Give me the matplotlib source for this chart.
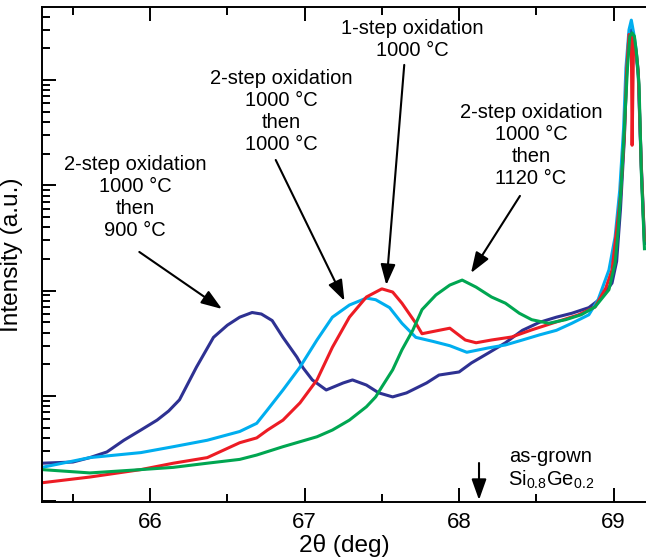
import matplotlib
matplotlib.use("Agg")
import matplotlib.pyplot as plt
from matplotlib.ticker import FixedLocator, LogLocator, NullFormatter

plt.rcParams["font.family"] = ["Liberation Sans", "DejaVu Sans"]
plt.rcParams["mathtext.fontset"] = "custom"
plt.rcParams["mathtext.rm"] = "Liberation Sans"
plt.rcParams["mathtext.it"] = "Liberation Sans"

# 2theta (deg) and intensity (a.u., log axis)
navy_x = [65.30, 65.50, 65.61, 65.72, 65.83, 65.94, 66.045, 66.12, 66.19, 66.30,
          66.41, 66.50, 66.58, 66.66, 66.72, 66.79, 66.86, 66.95, 66.99, 67.05,
          67.14, 67.25, 67.31, 67.40, 67.48, 67.57, 67.66, 67.79, 67.87, 68.00,
          68.08, 68.19, 68.30, 68.41, 68.52, 68.63, 68.73, 68.84, 68.92, 68.99,
          69.02, 69.045, 69.07, 69.085, 69.10, 69.115, 69.13, 69.145, 69.16, 69.18,
          69.20]
navy_y = [2.3, 2.36, 2.6, 2.94, 3.8, 4.75, 5.9, 7.2, 9.2, 18.8,
          36, 47, 56, 62, 60, 52, 36, 23.4, 18.5, 14.2,
          11.4, 13.3, 14.2, 12.7, 10.7, 9.8, 10.7, 13.3, 15.8, 16.9,
          20.6, 25.6, 32, 42, 50, 56, 61, 69, 85, 118,
          190, 600, 2800, 12000, 27000, 30000, 26000, 18000, 11000, 1400,
          280]

cyan_x = [65.30, 65.61, 65.94, 66.15, 66.37, 66.58, 66.69, 66.76, 66.86, 66.97,
          67.08, 67.18, 67.29, 67.40, 67.46, 67.55, 67.63, 67.72, 67.83, 67.94,
          68.05, 68.19, 68.30, 68.41, 68.52, 68.63, 68.73, 68.84, 68.90, 68.97,
          69.01, 69.04, 69.065, 69.08, 69.10, 69.115, 69.13, 69.145, 69.16, 69.18, 69.20]
cyan_y = [2.1, 2.6, 2.9, 3.3, 3.8, 4.6, 5.5, 7.4, 11.4, 18.8,
          34, 56, 73, 85, 82, 69, 49, 36, 33, 30,
          26, 28.6, 30.5, 34, 38, 42, 49, 59, 82, 157,
          324, 900, 3500, 13000, 30000, 37000, 28000, 20000, 12000, 1500, 300]

red_x = [65.30, 65.61, 65.94, 66.15, 66.37, 66.58, 66.69, 66.76, 66.86, 66.97,
         67.08, 67.18, 67.29, 67.40, 67.50, 67.57, 67.63, 67.72, 67.76, 67.87,
         67.94, 68.04, 68.11, 68.21, 68.34, 68.47, 68.63, 68.77, 68.88, 68.95,
         68.99, 69.02, 69.045, 69.07, 69.085, 69.10, 69.115, 69.12, 69.13, 69.145,
         69.16, 69.18, 69.20]
red_y = [1.5, 1.7, 2.0, 2.3, 2.6, 3.6, 4.0, 4.75, 5.9, 8.6,
         14.2, 29, 56, 87, 104, 97, 76, 49, 39, 42,
         44, 34, 32, 34, 36.3, 42.4, 50.5, 58.7, 70, 106,
         157, 377, 800, 3000, 12500, 27000, 26000, 2400, 25000, 19000,
         12000, 1500, 300]

green_x = [65.30, 65.61, 65.94, 66.15, 66.37, 66.58, 66.69, 66.86, 67.08, 67.18,
           67.29, 67.40, 67.46, 67.50, 67.57, 67.63, 67.70, 67.76, 67.85, 67.94,
           68.02, 68.11, 68.21, 68.30, 68.39, 68.47, 68.58, 68.69, 68.79, 68.88,
           68.97, 69.01, 69.03, 69.05, 69.07, 69.09, 69.105, 69.12, 69.135, 69.15,
           69.165, 69.18, 69.20]
green_y = [2.0, 1.86, 2.0, 2.1, 2.3, 2.5, 2.75, 3.3, 4.1, 4.75,
           5.9, 7.9, 9.8, 12.2, 17.7, 27.4, 42, 66, 91, 113,
           126, 108, 87, 76, 61, 53, 49, 53, 59, 70,
           102, 183, 377, 1000, 3500, 13000, 26000, 28000, 26000, 17000,
           9000, 1300, 250]

fig = plt.figure(figsize=(6.46, 5.59), dpi=100)
W, H = 646, 559
ax = fig.add_axes([42 / W, 57 / H, 1 - 42 / W, 495 / H])

lw = 2.2
ax.plot(navy_x, navy_y, color="#2e3192", lw=lw)
ax.plot(cyan_x, cyan_y, color="#00aeef", lw=lw)
ax.plot(red_x, red_y, color="#ed1c24", lw=lw)
ax.plot(green_x, green_y, color="#00a651", lw=lw)

ax.set_yscale("log")
ax.set_xlim(65.30, 69.21)
ax.set_ylim(0.985, 4.93e4)

ax.xaxis.set_major_locator(FixedLocator([66, 67, 68, 69]))
ax.xaxis.set_minor_locator(FixedLocator([65.5, 66.5, 67.5, 68.5]))
ax.yaxis.set_major_locator(LogLocator(base=10, numticks=10))
ax.yaxis.set_minor_locator(LogLocator(base=10, subs=range(2, 10), numticks=20))
ax.yaxis.set_major_formatter(NullFormatter())
ax.yaxis.set_minor_formatter(NullFormatter())

ax.tick_params(which="both", direction="in", top=True, right=False, width=1.4)
ax.tick_params(which="major", length=10, labelsize=16, pad=7)
ax.tick_params(which="minor", length=6)
ax.spines["right"].set_visible(False)
for s in ["left", "top", "bottom"]:
    ax.spines[s].set_linewidth(1.4)

ax.set_xlabel("2\u03b8 (deg)", fontsize=17.6, labelpad=1)
ax.set_ylabel("Intensity (a.u.)", fontsize=17.6, labelpad=7)

# labels
txt = dict(ha="center", va="center", fontsize=14.5, linespacing=1.2,
           multialignment="center")
fig.text(135 / W, 1 - 198 / H, "2-step oxidation\n1000 \u00b0C\nthen\n900 \u00b0C", **txt)
fig.text(281 / W, 1 - 111 / H, "2-step oxidation\n1000 \u00b0C\nthen\n1000 \u00b0C", **txt)
fig.text(412 / W, 1 - 40 / H, "1-step oxidation\n1000 \u00b0C", **txt)
fig.text(531 / W, 1 - 146 / H, "2-step oxidation\n1000 \u00b0C\nthen\n1120 \u00b0C", **txt)
fig.text(551 / W, 1 - 469 / H, "as-grown\nSi$_{0.8}$Ge$_{0.2}$", **txt)

arrow = dict(arrowstyle="-|>,head_length=0.7,head_width=0.25", color="black",
             lw=1.5, mutation_scale=18, shrinkA=0, shrinkB=0)
ax.annotate("", xy=(66.465, 67), xytext=(65.93, 233), arrowprops=arrow)
ax.annotate("", xy=(67.258, 80), xytext=(66.813, 1740), arrowprops=arrow)
ax.annotate("", xy=(67.529, 113), xytext=(67.645, 13900), arrowprops=arrow)
ax.annotate("", xy=(68.077, 147), xytext=(68.394, 793), arrowprops=arrow)
ax.annotate("", xy=(68.129, 1.03), xytext=(68.129, 2.31), arrowprops=arrow)

fig.savefig("out.png", dpi=100)
